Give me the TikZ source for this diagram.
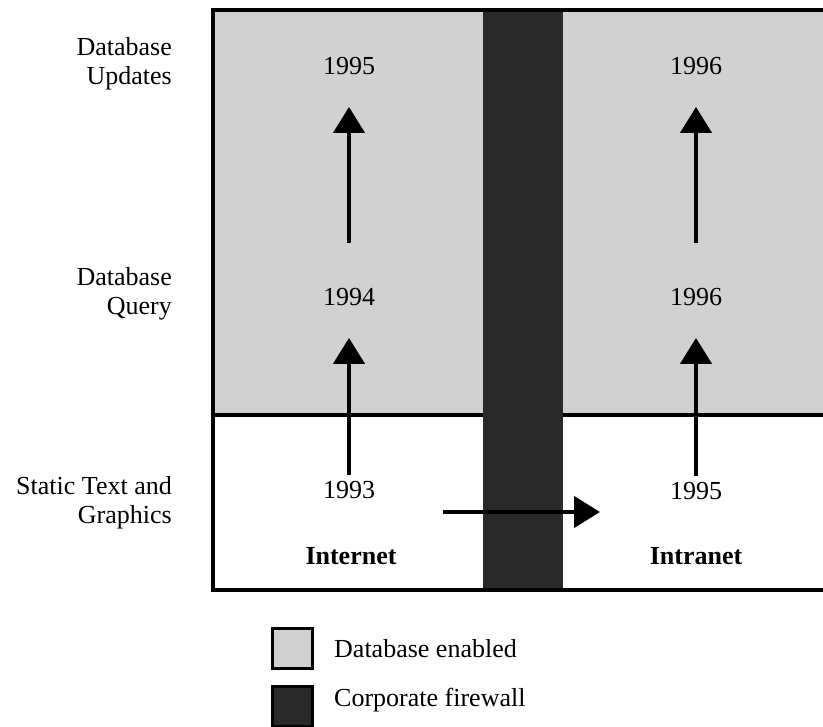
\documentclass[tikz,border=0pt]{standalone}
\usepackage{fontspec}
\setmainfont{Liberation Serif}
\usetikzlibrary{arrows.meta}
\definecolor{dbfill}{gray}{0.82}
\definecolor{fwfill}{gray}{0.16}
\begin{document}
\begin{tikzpicture}[x=1pt,y=-1pt,
  txt/.style={font=\fontsize{26}{29}\selectfont, inner sep=0pt},
  side/.style={txt, align=right, anchor=east},
  net/.style={inner sep=0pt, font=\fontsize{26}{29}\selectfont\bfseries},
  frame/.style={line width=3.5pt},
  growth/.style={line width=4.5pt, -{Triangle[width=31pt,length=26pt]}},
  keybox/.style={draw=black, line width=3pt, minimum size=40pt, inner sep=0pt},
]
\useasboundingbox (0,0) rectangle (823,727);
\clip (0,0) rectangle (823,727);

% database-enabled upper band, separator, firewall, outer frame
\fill[dbfill] (213,10) rectangle (840,415);
\draw[frame] (213,415) -- (840,415);
\fill[fwfill] (483,10) rectangle (563,590);
\draw[frame] (840,10) -- (213,10) -- (213,590) -- (840,590);

% row labels
\node[side] (lblUpd)  at (172,64)  {Database\\Updates};
\node[side] (lblQry)  at (172,294) {Database\\Query};
\node[side] (lblStat) at (172,503) {Static Text and\\Graphics};

% years, Internet column
\node[txt] (i95) at (349,66)  {1995};
\node[txt] (i94) at (349,297) {1994};
\node[txt] (i93) at (349,490) {1993};

% years, Intranet column
\node[txt] (n96b) at (696,66)  {1996};
\node[txt] (n96a) at (696,297) {1996};
\node[txt] (n95)  at (696,491) {1995};

% column names
\node[net] (inet)  at (351,556) {Internet};
\node[net] (intra) at (696,556) {Intranet};

% progression arrows
\draw[growth, shorten <=6pt, shorten >=32pt] (i93.north) -- (i94.south);
\draw[growth, shorten <=45pt, shorten >=32pt] (i94.north) -- (i95.south);
\draw[growth, shorten <=6pt, shorten >=32pt] (n95.north) -- (n96a.south);
\draw[growth, shorten <=45pt, shorten >=32pt] (n96a.north) -- (n96b.south);

% move across the firewall
\coordinate (cross0) at (443,512);
\coordinate (cross1) at (600,512);
\draw[growth] (cross0) -- (cross1);

% legend
\node[keybox, fill=dbfill] (keyDb) at (292.5,648.5) {};
\node[keybox, fill=fwfill] (keyFw) at (292.5,706) {};
\node[txt, anchor=base west] (keyDbTxt) at (334,657) {Database enabled};
\node[txt, anchor=base west] (keyFwTxt) at (334,706) {Corporate firewall};
\end{tikzpicture}
\end{document}
